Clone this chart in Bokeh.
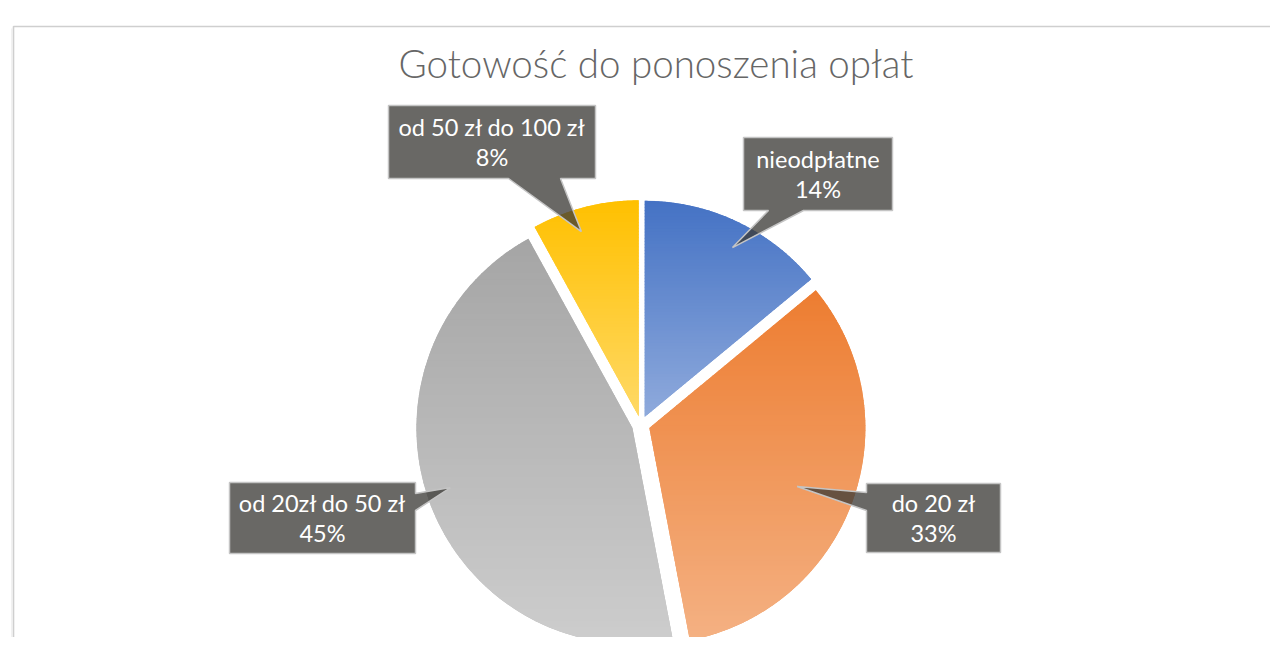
import numpy as np
from bokeh.plotting import figure
from bokeh.models import Range1d
from bokeh.embed import file_html
from bokeh.resources import INLINE
from bokeh.core.properties import value

# ---------------- data ----------------
title = "Gotowość do ponoszenia opłat"
categories = ["nieodpłatne", "do 20 zł", "od 20zł do 50 zł", "od 50 zł do 100 zł"]
shares = [14, 33, 45, 8]
pct_labels = ["14%", "33%", "45%", "8%"]
top_colors = ["#4472C4", "#ED7D31", "#A5A5A5", "#FFC000"]
bottom_colors = ["#8FAADC", "#F4B183", "#CDCDCD", "#FFD966"]

# ---------------- layout (page pixels) ----------------
W, H = 1270, 637
PAGE_H = 653
CX, CY = 640.4, 424.5      # pie centre on page
R = 216.0
EXPLODE = 9.0
FONT = "Lato"
TITLE_FONT = "'Lato Light', Lato"

# callout boxes: x0, x1, y0, y1, pointer side, base a, base b, tip angle (deg, clockwise from top), tip radius
callouts = [
    dict(box=(743, 892, 137, 210), side="bottom", base=(768, 803), tip=(27.3, 199.7)),
    dict(box=(866, 1000, 483, 552), side="left", base=(492, 510), tip=(111.5, 167.9)),
    dict(box=(229, 415, 482, 553), side="right", base=(493, 510), tip=(251.8, 200.4)),
    dict(box=(388, 595, 105, 178), side="bottom", base=(508, 560), tip=(342.9, 202.4)),
]


def Y(py):
    return PAGE_H - py


def hex2rgb(h):
    h = h.lstrip("#")
    return np.array([int(h[i:i + 2], 16) for i in (0, 2, 4)], dtype=float)


def rgb2hex(c):
    c = np.clip(np.round(c), 0, 255).astype(int)
    return "#%02x%02x%02x" % tuple(c)


def clip_y(poly, lo, hi):
    def clip(pts, keep, inter):
        out = []
        n = len(pts)
        for i in range(n):
            a, b = pts[i], pts[(i + 1) % n]
            ka, kb = keep(a), keep(b)
            if ka:
                out.append(a)
            if ka != kb:
                out.append(inter(a, b))
        return out

    def inter_at(yv):
        def f(a, b):
            t = (yv - a[1]) / (b[1] - a[1])
            return (a[0] + t * (b[0] - a[0]), yv)
        return f

    pts = clip(poly, lambda p: p[1] >= lo, inter_at(lo))
    if not pts:
        return []
    pts = clip(pts, lambda p: p[1] <= hi, inter_at(hi))
    return pts


p = figure(width=W, height=H, x_range=Range1d(0, W), y_range=Range1d(PAGE_H - H, PAGE_H),
           output_backend="svg", toolbar_location=None, x_axis_location=None, y_axis_location=None,
           min_border=0, outline_line_color=None, background_fill_color="white", border_fill_color="white")
p.grid.visible = False

# chart frame (border of the chart object)
p.line(x=[13, 13, 1300], y=[Y(700), Y(26), Y(26)], line_color="#cfcfcf", line_width=1.6)
p.line(x=[11.5, 11.5], y=[Y(700), Y(28)], line_color="#ececec", line_width=1.5)

# ---------------- pie ----------------
total = float(sum(shares))
cum = np.cumsum([0] + shares) / total * 360.0
strip_xs, strip_ys, strip_cols = [], [], []
wx, wy, ws, we, wc = [], [], [], [], []
for i, s in enumerate(shares):
    a0, a1 = cum[i], cum[i + 1]
    am = np.radians((a0 + a1) / 2)
    cx = CX + EXPLODE * np.sin(am)
    cy = CY - EXPLODE * np.cos(am)
    wx.append(cx)
    wy.append(Y(cy))
    ws.append(np.pi / 2 - np.radians(a1))
    we.append(np.pi / 2 - np.radians(a0))
    wc.append(rgb2hex((hex2rgb(top_colors[i]) + hex2rgb(bottom_colors[i])) / 2))
    th = np.radians(np.linspace(a0, a1, 240))
    poly = [(cx, cy)] + [(cx + R * np.sin(t), cy - R * np.cos(t)) for t in th]
    ymin = min(q[1] for q in poly)
    ymax = max(q[1] for q in poly)
    n = 70
    edges = np.linspace(ymin, ymax, n + 1)
    c0, c1 = hex2rgb(top_colors[i]), hex2rgb(bottom_colors[i])
    for k in range(n):
        lo, hi = edges[k], min(edges[k + 1] + 0.8, ymax)
        piece = clip_y(poly, lo, hi)
        if len(piece) < 3:
            continue
        t = ((edges[k] + edges[k + 1]) / 2 - ymin) / (ymax - ymin)
        strip_xs.append([q[0] for q in piece])
        strip_ys.append([Y(q[1]) for q in piece])
        strip_cols.append(rgb2hex(c0 + (c1 - c0) * t))

p.wedge(x=wx, y=wy, radius=R, start_angle=ws, end_angle=we, direction="anticlock",
        fill_color=wc, line_color=None)
p.patches(xs=strip_xs, ys=strip_ys, fill_color=strip_cols, line_color=None)

# ---------------- callouts ----------------
cxs, cys, tx, ty, tt = [], [], [], [], []
for i, c in enumerate(callouts):
    x0, x1, y0, y1 = c["box"]
    ang, rr = c["tip"]
    tipx = CX + rr * np.sin(np.radians(ang))
    tipy = CY - rr * np.cos(np.radians(ang))
    ba, bb = c["base"]
    if c["side"] == "bottom":
        pts = [(x0, y0), (x1, y0), (x1, y1), (bb, y1), (tipx, tipy), (ba, y1), (x0, y1)]
    elif c["side"] == "right":
        pts = [(x0, y0), (x1, y0), (x1, ba), (tipx, tipy), (x1, bb), (x1, y1), (x0, y1)]
    else:
        pts = [(x0, y0), (x1, y0), (x1, y1), (x0, y1), (x0, bb), (tipx, tipy), (x0, ba)]
    cxs.append([q[0] for q in pts])
    cys.append([Y(q[1]) for q in pts])
    mx, my = (x0 + x1) / 2, (y0 + y1) / 2
    tx += [mx, mx]
    ty += [Y(my - 15), Y(my + 15)]
    tt += [categories[i], pct_labels[i]]

p.patches(xs=cxs, ys=cys, fill_color="#3c3a36", fill_alpha=0.77, line_color="#c4c4c4", line_width=1.5)
p.text(x=tx, y=ty, text=tt, text_font=value(FONT), text_font_size="23.5px", text_color="white",
       text_align="center", text_baseline="middle")

# ---------------- title ----------------
p.text(x=[655.5], y=[Y(62)], text=[title], text_font=value(TITLE_FONT), text_font_size="38.5px",
       text_color="#666666", text_align="center", text_baseline="middle")

open("out.html", "w").write(file_html(p, INLINE))
